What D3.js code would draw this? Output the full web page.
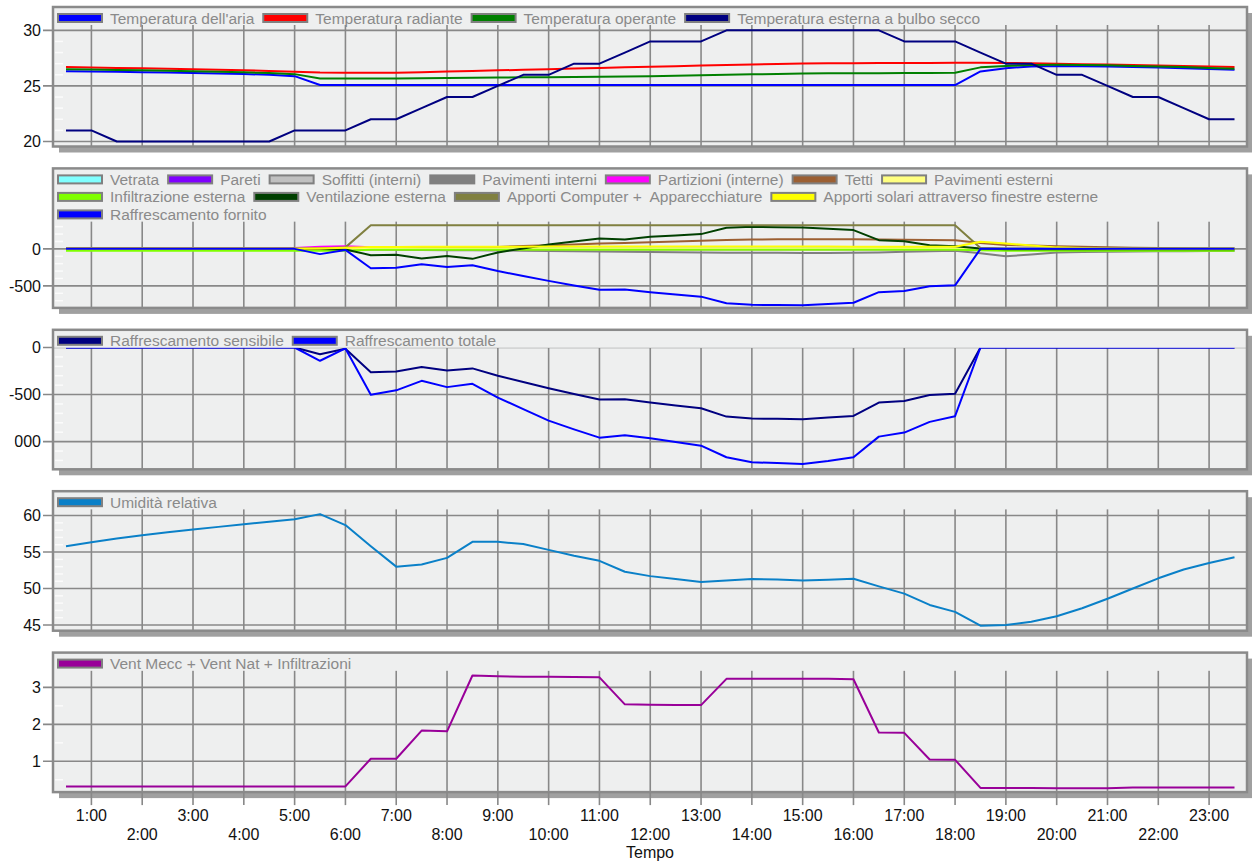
<!DOCTYPE html>
<html><head><meta charset="utf-8">
<script src="https://cdn.jsdelivr.net/npm/d3@7"></script>
<style>
body{margin:0;background:#fff;}
svg{display:block;font-family:"Liberation Sans",Arial,Helvetica,sans-serif;}
</style></head><body>
<svg id="chart" width="1252" height="863"></svg>
<script>
// ---------- DATA (half-hourly, 0:30 .. 23:30) ----------
const timeHours = d3.range(47).map(i => 0.5 + 0.5 * i);
const hourTicks = d3.range(1, 24);
const hourTickLabels = hourTicks.map(h => h + ":00");
const xAxisTitle = "Tempo";

// Panel 1 – temperatures (°C)
const tempAria = [26.32,26.3,26.27,26.24,26.2,26.16,26.12,26.07,26.0,25.88,25.08,25.08,25.08,25.08,25.08,25.08,25.08,25.08,25.08,25.08,25.08,25.08,25.08,25.08,25.08,25.08,25.08,25.08,25.08,25.08,25.08,25.08,25.08,25.08,25.08,25.08,26.3,26.6,26.75,26.8,26.78,26.75,26.7,26.65,26.6,26.52,26.45];
const tempRadiante = [26.7,26.66,26.62,26.58,26.54,26.5,26.45,26.4,26.35,26.28,26.2,26.18,26.18,26.18,26.23,26.29,26.34,26.4,26.45,26.5,26.56,26.61,26.67,26.72,26.78,26.83,26.88,26.93,26.98,27.02,27.04,27.05,27.06,27.07,27.07,27.08,27.08,27.07,27.05,27.0,26.96,26.92,26.88,26.84,26.8,26.75,26.7];
const tempOperante = [26.5,26.47,26.44,26.4,26.36,26.32,26.27,26.22,26.16,26.06,25.67,25.66,25.66,25.67,25.69,25.71,25.73,25.75,25.77,25.79,25.81,25.83,25.85,25.88,25.92,25.96,26.0,26.04,26.08,26.12,26.13,26.14,26.15,26.16,26.17,26.18,26.67,26.8,26.88,26.9,26.88,26.85,26.8,26.75,26.7,26.62,26.55];
const tempEsterna = [21,21,20,20,20,20,20,20,20,21,21,21,22,22,23,24,24,25,26,26,27,27,28,29,29,29,30,30,30,30,30,30,30,29,29,29,28,27,27,26,26,25,24,24,23,22,22];

// Panel 2 – heat balance (W)
const vetrata = [2,2,2,2,2,2,2,2,2,2,2,5,8,8,8,8,8,8,8,8,8,8,8,8,8,8,8,8,8,8,8,8,8,8,8,8,4,2,2,2,2,2,2,2,2,2,2];
const pareti = [-3,-3,-3,-3,-3,-3,-3,-3,-3,-3,-3,-2,2,2,2,2,2,2,2,2,2,2,2,2,2,2,2,2,2,2,2,2,2,2,2,2,0,-3,-3,-3,-3,-3,-3,-3,-3,-3,-3];
const soffitti = [-2,-2,-2,-2,-2,-2,-2,-2,-2,-2,-2,-2,-4,-4,-4,-4,-4,-4,-4,-4,-4,-4,-4,-4,-4,-4,-4,-4,-4,-4,-4,-4,-4,-4,-4,-4,-3,-2,-2,-2,-2,-2,-2,-2,-2,-2,-2];
const pavimentiInterni = [-3,-3,-3,-3,-3,-3,-3,-3,-3,-3,-3,-5,-10,-12,-15,-18,-20,-22,-25,-30,-33,-36,-40,-43,-46,-49,-51,-53,-54,-55,-55,-54,-48,-40,-33,-27,-60,-100,-75,-50,-42,-38,-35,-33,-31,-30,-30];
const partizioni = [5,5,5,5,5,5,5,5,5,10,30,35,20,10,5,2,0,-2,-4,-6,-6,-6,-6,-6,-6,-6,-6,-6,-6,-6,-6,-6,-6,-6,-6,-6,-4,-3,-3,-3,-3,-3,-3,-3,-3,-3,-3];
const tetti = [8,8,7,7,6,6,6,5,5,5,5,5,5,6,8,10,15,25,38,50,60,72,80,90,100,110,118,125,128,130,130,128,126,123,120,117,80,52,44,36,28,20,15,11,8,6,5];
const pavimentiEsterni = [2,2,2,2,2,2,2,2,2,2,2,3,6,6,6,6,6,6,6,6,6,6,6,6,6,6,6,6,6,6,6,6,6,6,6,6,4,2,2,2,2,2,2,2,2,2,2];
const infiltrazione = [-27,-27,-27,-27,-27,-27,-27,-27,-27,-27,-27,-27,-12,-12,-12,-12,-12,-12,-12,-12,-12,-12,-12,-12,-12,-12,-12,-12,-12,-12,-12,-12,-12,-12,-12,-12,-18,-25,-26,-27,-27,-27,-27,-27,-27,-27,-27];
const ventilazione = [-3,-3,-3,-3,-3,-3,-3,-3,-3,-3,-3,-8,-85,-80,-130,-95,-135,-48,5,59,100,140,127,162,180,199,284,297,293,289,270,253,117,104,50,36,5,-5,-5,-5,-5,-5,-5,-5,-5,-5,-5];
const apportiComputer = [5,5,5,5,5,5,5,5,5,5,5,20,318,318,318,318,318,318,318,318,318,318,318,318,318,318,318,318,318,318,318,318,318,318,318,318,12,5,5,5,5,5,5,5,5,5,5];
const apportiSolari = [0,0,0,0,0,0,0,0,0,0,5,15,25,26,27,28,29,30,30,31,31,31,32,32,32,32,32,32,32,31,31,30,30,29,29,28,95,72,45,20,10,5,2,0,0,0,0];

// Panel 3 – cooling (W); sensible cooling equals cooling supplied in panel 2
const raffSensibile = [0,0,0,0,0,0,0,0,0,0,-71,-14,-262,-255,-208,-245,-222,-300,-366,-432,-495,-553,-549,-585,-615,-645,-734,-755,-758,-762,-745,-727,-585,-568,-505,-492,0,0,0,0,0,0,0,0,0,0,0];
const raffTotale = [0,0,0,0,0,0,0,0,0,0,-141,-10,-503,-455,-354,-421,-386,-532,-655,-777,-870,-958,-932,-964,-1005,-1043,-1166,-1219,-1228,-1237,-1205,-1166,-947,-904,-790,-730,0,0,0,0,0,0,0,0,0,0,0];

// Panel 4 – relative humidity (%)
const umidita = [55.8,56.35,56.85,57.3,57.7,58.1,58.45,58.8,59.15,59.5,60.2,58.7,55.8,53.0,53.3,54.2,56.4,56.4,56.1,55.3,54.5,53.8,52.3,51.7,51.3,50.9,51.1,51.3,51.25,51.1,51.2,51.35,50.3,49.3,47.75,46.8,44.9,45.0,45.45,46.2,47.3,48.6,50.0,51.4,52.6,53.5,54.3];

// Panel 5 – air changes (ach)
const ventTot = [0.32,0.32,0.32,0.32,0.32,0.32,0.32,0.32,0.32,0.32,0.32,0.32,1.07,1.07,1.83,1.81,3.32,3.30,3.29,3.29,3.28,3.27,2.54,2.53,2.52,2.52,3.23,3.23,3.23,3.23,3.23,3.22,1.78,1.77,1.05,1.04,0.28,0.28,0.28,0.27,0.27,0.27,0.29,0.29,0.29,0.29,0.29];

// Tick values per panel
const p1Ticks = [20, 25, 30];
const p2Ticks = [-500, 0];
const p3Ticks = [-1000, -500, 0];
const p4Ticks = [45, 50, 55, 60];
const p5Ticks = [1, 2, 3];

// ---------- PANEL DEFINITIONS ----------
const panels = [
  { domain: [19.55, 32.1], ticks: p1Ticks, minor: 1, series: [
    { name: "Temperatura dell'aria", color: "#0000ff", values: tempAria },
    { name: "Temperatura radiante", color: "#ff0000", values: tempRadiante },
    { name: "Temperatura operante", color: "#008000", values: tempOperante },
    { name: "Temperatura esterna a bulbo secco", color: "#000080", values: tempEsterna } ] },
  { domain: [-797, 1086], ticks: p2Ticks, minor: 100, series: [
    { name: "Vetrata", color: "#80ffff", values: vetrata },
    { name: "Pareti", color: "#8000ff", values: pareti },
    { name: "Soffitti (interni)", color: "#c0c0c0", values: soffitti },
    { name: "Pavimenti interni", color: "#808080", values: pavimentiInterni },
    { name: "Partizioni (interne)", color: "#ff00ff", values: partizioni },
    { name: "Tetti", color: "#9c5f32", values: tetti },
    { name: "Pavimenti esterni", color: "#ffff80", values: pavimentiEsterni },
    { name: "Infiltrazione esterna", color: "#80ff00", values: infiltrazione },
    { name: "Ventilazione esterna", color: "#004000", values: ventilazione },
    { name: "Apporti Computer +  Apparecchiature", color: "#808040", values: apportiComputer },
    { name: "Apporti solari attraverso finestre esterne", color: "#ffff00", values: apportiSolari },
    { name: "Raffrescamento fornito", color: "#0000ff", values: raffSensibile } ] },
  { domain: [-1294, 188], ticks: p3Ticks, minor: 100, series: [
    { name: "Raffrescamento sensibile", color: "#000080", values: raffSensibile },
    { name: "Raffrescamento totale", color: "#0000ff", values: raffTotale } ] },
  { domain: [44.22, 63.34], ticks: p4Ticks, minor: 1, series: [
    { name: "Umidità relativa", color: "#0a80c8", values: umidita } ] },
  { domain: [0.167, 3.94], ticks: p5Ticks, minor: 0.5, series: [
    { name: "Vent Mecc + Vent Nat + Infiltrazioni", color: "#990099", values: ventTot } ] }
];

// ---------- LAYOUT ----------
const svg = d3.select("#chart");
const frameL = 53, frameR = 1247, panelH = 139.5, panelStep = 161.4, firstTop = 7;
const bg = "#eeefef", gridC = "#888888", shadowC = "#a0a0a0";
const x = d3.scaleLinear().domain([0.5, 23.5]).range([66, 1234.5]);
const defs = svg.append("defs");

panels.forEach((p, pi) => {
  const top = firstTop + pi * panelStep, bottom = top + panelH;
  const y = d3.scaleLinear().domain(p.domain).range([bottom, top]);
  const g = svg.append("g");

  // shadow + background
  g.append("rect").attr("x", frameL + 6).attr("y", top + 6).attr("width", frameR - frameL).attr("height", panelH).attr("fill", shadowC);
  g.append("rect").attr("x", frameL).attr("y", top).attr("width", frameR - frameL).attr("height", panelH).attr("fill", bg);

  // legend (measure first to know its height)
  const leg = g.append("g");
  const legItems = leg.append("g");
  let lx = frameL + 4, row = 0;
  const rowY = r => top + 11 + r * 17.5;
  p.series.forEach(s => {
    const t = legItems.append("text").attr("x", lx + 53).attr("y", rowY(row) + 5.5)
      .attr("font-size", 15.5).attr("fill", "#8a8a8a").style("white-space", "pre").text(s.name);
    const w = t.node().getComputedTextLength();
    if (lx + 53 + w > frameR - 30 && lx > frameL + 4) {
      row++; lx = frameL + 4;
      t.attr("x", lx + 53).attr("y", rowY(row) + 5.5);
    }
    legItems.append("rect").attr("x", lx + 1).attr("y", rowY(row) - 4).attr("width", 44).attr("height", 8)
      .attr("fill", s.color).attr("stroke", "#808080").attr("stroke-width", 2);
    lx = lx + 53 + w + 8;
  });
  const legBottom = rowY(row) + 7;

  // vertical grid lines (below legend)
  const grid = g.insert("g", () => leg.node());
  grid.selectAll("line.v").data(hourTicks).join("line")
    .attr("x1", d => x(d)).attr("x2", d => x(d)).attr("y1", legBottom).attr("y2", bottom)
    .attr("stroke", gridC).attr("stroke-width", 1.6);
  // minor ticks
  const minors = d3.range(Math.ceil(p.domain[0] / p.minor) * p.minor, p.domain[1], p.minor)
    .filter(v => !p.ticks.some(t => Math.abs(t - v) < 1e-6) && y(v) > legBottom + 2 && y(v) < bottom - 2);
  grid.selectAll("line.m").data(minors).join("line")
    .attr("x1", frameL + 2).attr("x2", frameL + 10).attr("y1", d => y(d)).attr("y2", d => y(d))
    .attr("stroke", "#fbfbfb").attr("stroke-width", 1.5);
  // horizontal grid + left ticks
  const hg = g.append("g");
  hg.selectAll("line").data(p.ticks).join("line")
    .attr("x1", 43).attr("x2", frameR).attr("y1", d => y(d)).attr("y2", d => y(d))
    .attr("stroke", gridC).attr("stroke-width", 1.6);
  hg.selectAll("text").data(p.ticks).join("text")
    .attr("x", 41).attr("y", d => y(d) + 5.8).attr("text-anchor", "end")
    .attr("font-size", 16).attr("fill", "#111").text(d => d3.format("d")(d).replace("−", "-"))
    .each(function(d) {
      const bb = this.getBBox();
      if (bb.x < 4) {
        const id = "lc" + pi + "_" + Math.abs(d);
        defs.append("clipPath").attr("id", id).append("rect").attr("x", 14.5).attr("y", bb.y - 2).attr("width", 40).attr("height", bb.height + 4);
        d3.select(this).attr("clip-path", `url(#${id})`);
      }
    });

  // data lines
  const cid = "clip" + pi;
  defs.append("clipPath").attr("id", cid).append("rect").attr("x", frameL).attr("y", top).attr("width", frameR - frameL).attr("height", panelH);
  const lines = g.append("g").attr("clip-path", `url(#${cid})`);
  const line = d3.line().x((d, i) => x(timeHours[i])).y(d => y(d));
  p.series.forEach(s => {
    lines.append("path").datum(s.values).attr("d", line).attr("fill", "none")
      .attr("stroke", s.color).attr("stroke-width", 2).attr("stroke-linejoin", "round");
  });

  // raise legend above lines, with background box
  leg.raise();
  leg.insert("rect", ":first-child").attr("x", frameL + 1).attr("y", top + 1)
    .attr("width", frameR - frameL - 2).attr("height", legBottom - top - 1).attr("fill", bg);

  // frame
  g.append("rect").attr("x", frameL).attr("y", top).attr("width", frameR - frameL).attr("height", panelH)
    .attr("fill", "none").attr("stroke", "#8a8a8a").attr("stroke-width", 2.5);

  // x axis below the last panel
  if (pi === panels.length - 1) {
    const ax = svg.append("g");
    ax.selectAll("line").data(hourTicks).join("line")
      .attr("x1", d => x(d)).attr("x2", d => x(d)).attr("y1", bottom).attr("y2", bottom + 13)
      .attr("stroke", gridC).attr("stroke-width", 1.6);
    ax.selectAll("text").data(hourTicks).join("text")
      .attr("x", d => x(d)).attr("y", (d, i) => (d % 2 === 1 ? bottom + 28.5 : bottom + 47.5))
      .attr("text-anchor", "middle").attr("font-size", 16).attr("fill", "#111")
      .text((d, i) => hourTickLabels[i]);
    ax.append("text").attr("x", (frameL + frameR) / 2).attr("y", bottom + 65.5)
      .attr("text-anchor", "middle").attr("font-size", 16).attr("fill", "#111").text(xAxisTitle);
  }
});
</script>
</body></html>
